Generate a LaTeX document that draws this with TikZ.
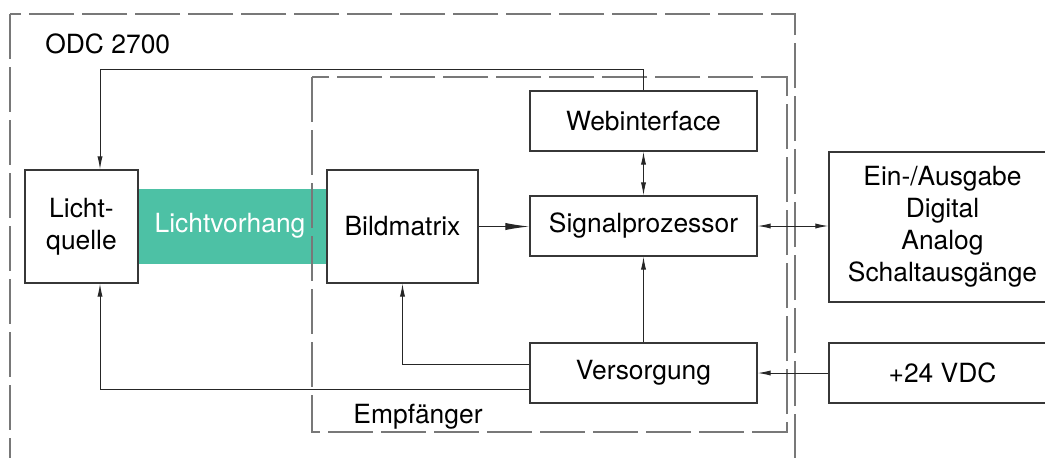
\documentclass[tikz,border=0pt]{standalone}
\usepackage{fontspec}
\setmainfont{TeX Gyre Heros}
\usetikzlibrary{arrows.meta}
\definecolor{vorhang}{RGB}{77,193,165}
\definecolor{linie}{RGB}{55,55,55}
\definecolor{strich}{RGB}{120,120,120}
\begin{document}
\begin{tikzpicture}[x=0.5pt, y=-0.5pt,
        font=\fontsize{13.2}{16}\selectfont,
        block/.style={draw=linie, line width=0.7pt, fill=white, align=center, inner sep=0pt},
        gehaeuse/.style={draw=strich, line width=0.75pt, dash pattern=on 22.5pt off 4pt},
        pfeil/.style={draw=black!85, line width=0.5pt, -{Latex[length=6.5pt, width=2.6pt]}},
        doppelpfeil/.style={draw=black!85, line width=0.5pt, {Latex[length=6.5pt, width=2.6pt]}-{Latex[length=6.5pt, width=2.6pt]}},
        langpfeil/.style={draw=black!85, line width=0.5pt, -{Latex[length=12pt, width=3.6pt]}}]
        \useasboundingbox (0, 0) rectangle (1045, 457);
        \clip (0, 0) rectangle (1045, 457);
        \fill [vorhang] (138, 189) rectangle (327, 264);
        \node [text=white] (band) at (230, 226) {Lichtvorhang};
        \draw [gehaeuse] (10, 14) rectangle (795, 480);
        \draw [gehaeuse] (312, 77) rectangle (787, 432);
        \node [anchor=base west, inner sep=0pt] (odc) at (45, 53) {ODC 2700};
        \node [anchor=base west, inner sep=0pt] (empf) at (353, 423) {Empf\"anger};
        \node [block, minimum width=56.5pt, minimum height=56.5pt] (quelle) at (81.5, 226.5) {Licht-\\quelle};
        \node [block, minimum width=75.5pt, minimum height=56.5pt] (bild) at (402.5, 226.5) {Bildmatrix};
        \node [block, minimum width=113.5pt, minimum height=30pt] (web) at (643.5, 121) {Webinterface};
        \node [block, minimum width=113.5pt, minimum height=30pt] (sig) at (643.5, 226) {Signalprozessor};
        \node [block, minimum width=113.5pt, minimum height=30pt] (vers) at (643.5, 373) {Versorgung};
        \node [block, minimum width=113.5pt, minimum height=75pt] (eaus) at (942.5, 227) {Ein-/Ausgabe\\Digital\\Analog\\Schaltausg\"ange};
        \node [block, minimum width=113.5pt, minimum height=30pt] (vdc) at (942.5, 373) {+24 VDC};
        \coordinate (oben) at (100, 69);
        \coordinate (unten) at (100, 389);
        \coordinate (mitte) at (402.5, 364);
        \draw [pfeil] (web.north) |- (oben) -- (oben |- quelle.north);
        \draw [pfeil] (vers.west |- unten) -- (unten) -- (unten |- quelle.south);
        \draw [pfeil] (vers.west |- mitte) -- (mitte) -- (bild.south);
        \draw [langpfeil] (bild.east) -- (bild.east -| sig.west);
        \draw [doppelpfeil] (web.south) -- (sig.north);
        \draw [doppelpfeil] (sig.east) -- (sig.east -| eaus.west);
        \draw [pfeil] (vers.north) -- (sig.south);
        \draw [pfeil] (vdc.west) -- (vers.east);
\end{tikzpicture}
\end{document}
